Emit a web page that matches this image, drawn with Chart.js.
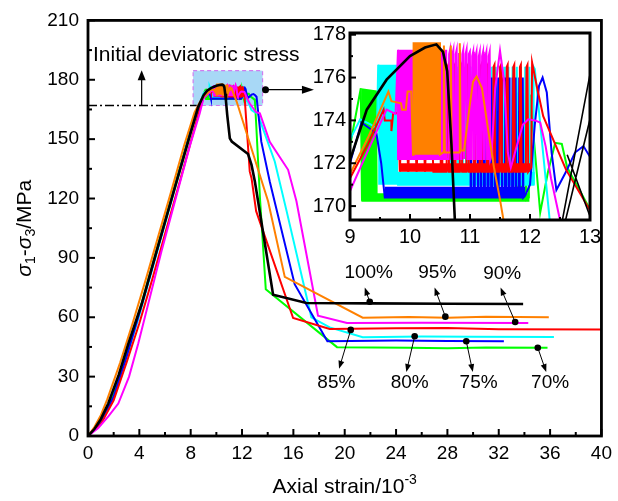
<!DOCTYPE html>
<html><head><meta charset="utf-8">
<script src="https://cdn.jsdelivr.net/npm/chart.js@4.4.1/dist/chart.umd.min.js"></script>
<style>
html,body{margin:0;padding:0;background:#fff;}
#wrap{position:relative;width:618px;height:501px;overflow:hidden;}
#main{position:absolute;left:0;top:0;}
#inset{position:absolute;left:300px;top:0;}
</style></head><body>
<div id="wrap"><canvas id="main" width="618" height="501"></canvas><canvas id="inset" width="310" height="250"></canvas></div>
<script>
// ---------------- DATA ----------------
const seriesLabels = ['100%','95%','90%','85%','75%','80%','70%'];
const seriesColors = ['#000000','#ff8000','#ff00ff','#ff0000','#0000ff','#00ffff','#00ff00'];
// order in arrays: 100% black, 95% orange, 90% magenta, 85% red, 75% blue, 80% cyan, 70% green

// pre-peak (rise) segments  [strain(1e-3), deviatoric stress MPa]
const riseBlack   = [[0,0],[0.5,3.5],[1,8.5],[1.58,16.4],[2.4,31],[3.14,46.6],[4.18,66.7],[5.35,93.5],[6.5,119.5],[7.5,142],[8.58,166.3],[9.0,172.15]];
const riseOrange  = [[0,0],[0.5,4.5],[1,10.5],[1.5,18.5],[2.5,37],[3.5,57.5],[4.5,79],[5.5,101.5],[6.5,124],[7.5,147],[8.3,163.5],[8.7,168.5],[9.0,171.5]];
const riseMagenta = [[0,0],[0.8,4],[1.6,10],[2.36,16.4],[3.2,30],[3.91,46.6],[4.69,66.7],[5.73,93.5],[7,124],[8,148],[8.7,163],[9.0,170.7]];
const riseRed     = [[0,0],[1,6],[2,18],[3,37],[4,57],[5,79],[6,102],[7,125],[8,148.5],[8.6,162.5],[9.0,171.3]];
const riseBlue    = [[0,0],[1,6.5],[2,20],[3,40],[4,62],[5,85],[6,108],[7,131],[8,154],[8.6,165],[9.0,172.0]];
const riseCyan    = [[0,0],[1,6],[2,19.5],[3,39.5],[4,61],[5,84],[6,107],[7,130],[8,153],[8.6,165.5],[9.0,173.1]];
const riseGreen   = [[0,0],[1,7],[2,21],[3,42],[4,63],[5,86],[6,109],[7,132],[8,155],[8.6,166],[9.0,172.8]];

// peak / cyclic plateau segments (individual load cycles)
const plateauBlack = [[9.28,174.5],[9.61,175.9],[10.0,177.0],[10.25,177.4],[10.44,177.55],[10.55,177.2],[10.62,176.3],[10.69,172.9],[10.75,169.2]];
const plateauOrange = [[9.3,173.2],[9.64,175.35],[9.69,174.9],[9.85,174.8],[9.87,174.5],[9.93,174.5],[9.96,175.35],[10.02,175.35],[10.05,172.4],
 [10.06,177.6],[10.5,177.6],[10.5,172.4],[10.55,172.5],[10.565,177.5],[10.58,172.5],[10.67,172.5],[10.68,177.5],[10.695,172.5],
 [10.82,172.5],[10.83,177.6],[10.845,172.6],[10.9,172.6]];
const plateauMagenta = [[9.3,172.6],[9.61,174.5],[9.76,174.3],[9.8,177.3],[9.8,172.2],[10.62,172.2],
 [10.64,172.2],[10.652,177.1],[10.668,177.3],[10.68,172.2],[10.695,172.2],[10.707,177.1],[10.723,177.3],[10.735,172.2],
 [10.75,172.2],[10.762,177.1],[10.778,177.3],[10.79,172.2],[10.805,172.2],[10.817,177.1],[10.833,177.3],[10.845,172.2],
 [10.86,172.2],[10.872,177.1],[10.888,177.3],[10.9,172.2],[10.915,172.2],[10.927,177.1],[10.943,177.3],[10.955,172.2],
 [10.97,172.2],[10.982,177.1],[10.998,177.2],[11.01,172.2],[11.025,172.2],[11.037,177.0],[11.053,177.2],[11.065,172.2],
 [11.08,172.2],[11.092,177.0],[11.108,177.2],[11.12,172.2],[11.135,172.2],[11.147,177.0],[11.163,177.2],[11.175,172.2],
 [11.19,172.2],[11.202,177.0],[11.218,177.2],[11.23,172.2],[11.245,172.2],[11.257,177.0],[11.273,177.2],[11.285,172.2],
 [11.3,172.2],[11.312,177.0],[11.328,177.2],[11.34,172.2],
 [11.36,172.4],[11.42,175.5],[11.5,177.25],[11.57,175.8],[11.63,172.5],[11.68,171.8],[11.78,172.8],[11.88,173.8],[11.97,174.05],[12.08,174.0],[12.17,173.9],[12.26,172.8],[12.35,171.3]];
const plateauRed = [[9.3,172.9],[9.56,174.5],[9.58,174.0],[9.69,174.0],[9.69,173.5],[9.72,174.35],[9.81,174.35],[9.83,171.6],
 [9.9,176.6],[9.97,171.6],[10.04,176.6],[10.11,171.6],[10.18,176.6],[10.25,171.6],[10.32,176.6],[10.39,171.6],[10.46,171.6],
 [10.5,171.6],[10.512,176.5],[10.528,176.6],[10.54,171.6],[10.61,171.6],[10.622,176.5],[10.638,176.6],[10.65,171.6],
 [10.72,171.6],[10.732,176.5],[10.748,176.6],[10.76,171.6],[10.83,171.6],[10.842,176.5],[10.858,176.6],[10.87,171.6],
 [10.94,171.6],[10.952,176.5],[10.968,176.6],[10.98,171.6],[11.05,171.6],[11.062,176.5],[11.078,176.6],[11.09,171.6],
 [11.16,171.6],[11.172,176.5],[11.188,176.6],[11.2,171.6],[11.27,171.6],[11.282,176.5],[11.298,176.6],[11.31,171.6],
 [11.38,171.6],[11.392,176.5],[11.408,176.6],[11.42,171.6],[11.49,171.6],[11.502,176.5],[11.518,176.6],[11.53,171.6],
 [11.6,171.6],[11.612,176.5],[11.628,176.6],[11.64,171.6],[11.71,171.6],[11.722,176.5],[11.738,176.6],[11.75,171.6],
 [11.82,171.6],[11.832,176.5],[11.848,176.6],[11.86,171.6],[11.93,171.6],[11.942,176.5],[11.958,176.6],[11.97,171.6],
 [12.02,171.8],[12.035,176.7]];
const plateauBlue = [[9.19,173.9],[9.44,173.4],[9.52,172.0],[9.58,170.4],[11.0,170.4],
 [11.01,176.0],[11.02,170.4],[11.06,170.4],[11.07,176.0],[11.08,170.4],[11.12,170.4],[11.13,176.0],[11.14,170.4],
 [11.17,170.4],[11.18,176.0],[11.19,170.4],[11.23,170.4],[11.24,176.0],[11.25,170.4],[11.29,170.4],[11.3,176.0],[11.31,170.4],
 [11.35,170.4],[11.36,176.0],[11.37,170.4],[11.41,170.4],[11.42,176.0],[11.43,170.4],[11.46,170.4],[11.47,176.0],[11.48,170.4],
 [11.52,170.4],[11.53,176.0],[11.54,170.4],[11.58,170.4],[11.59,176.0],[11.6,170.4],[11.64,170.4],[11.65,176.0],[11.66,170.4],
 [11.7,170.4],[11.71,176.0],[11.72,170.4],[11.75,170.4],[11.76,176.0],[11.77,170.4],[11.81,170.4],[11.82,176.0],[11.83,170.4],
 [11.87,170.4],[11.88,176.0],[11.89,170.4],[11.92,170.5]];
const plateauCyan = [[9.17,174.05],[9.35,173.8],[9.45,173.6],[9.47,176.6],[9.8,171.0],[10.65,171.0],
 [10.66,176.5],[10.67,171.0],[10.72,171.0],[10.73,176.5],[10.74,171.0],[10.79,171.0],[10.8,176.5],[10.81,171.0],
 [10.86,171.0],[10.87,176.5],[10.88,171.0],[10.93,171.0],[10.94,176.5],[10.95,171.0],[11.0,171.0],[11.01,176.5],[11.02,171.0],
 [11.07,171.0],[11.08,176.5],[11.09,171.0],[11.14,171.0],[11.15,176.5],[11.16,171.0],[11.21,171.0],[11.22,176.5],[11.23,171.0],
 [11.28,171.0],[11.29,176.5],[11.3,171.0],[11.35,171.0],[11.36,176.5],[11.37,171.0],[11.42,171.0],[11.43,176.5],[11.44,171.0],
 [11.49,171.0],[11.5,176.5],[11.51,171.0],[11.56,171.0],[11.57,176.5],[11.58,171.0],[11.63,171.0],[11.64,176.5],[11.65,171.0],
 [11.7,171.0],[11.71,176.5],[11.72,171.0],[11.77,171.0],[11.78,176.5],[11.79,171.0],[11.84,171.0],[11.85,176.5],[11.86,171.0],
 [11.91,171.0],[11.92,176.5],[11.93,171.0],[11.98,171.0],[11.99,176.5],[12.0,171.0],[12.05,171.0],[12.06,176.5],[12.08,176.4]];
const plateauGreen = [[9.12,174.6],[9.18,175.5],[9.2,170.3],[11.76,170.3],[11.77,175.3],[11.78,170.3],[11.84,170.3],[11.85,175.4],[11.86,170.3],
 [11.92,170.3],[11.93,175.2],[11.94,170.3],[11.98,170.4]];

// envelopes of the densely cycled blocks (outline polygons)
const bandOrange  = [[10.06,177.6],[10.5,177.6],[10.5,172.4],[10.06,172.4]];
const bandMagenta = [[9.8,177.3],[10.62,177.3],[10.62,172.2],[9.8,172.2]];
const bandRed     = [[9.83,172.0],[12.0,172.0],[12.0,171.6],[9.83,171.6]];
const bandBlue    = [[9.58,170.9],[11.92,170.9],[11.92,170.4],[9.58,170.4]];
const bandCyan    = [[9.47,176.6],[9.8,176.6],[9.8,171.6],[12.08,171.6],[12.08,171.0],[9.47,171.0]];
const bandGreen   = [[9.19,175.5],[9.45,175.4],[9.46,170.6],[11.99,170.6],[11.99,170.2],[9.19,170.2]];

// post-peak tails (shared by main chart and inset)
const tailBlack   = [];
const tailOrange  = [[11.0,174.8],[11.05,175.8],[11.11,176.05],[11.2,175.5],[11.3,173.6],[11.4,171.8],[11.5,170.3],[11.58,169.0]];
const tailMagenta = [[12.5,169.35]];
const tailRed     = [];
const tailBlue    = [[12.0,171.0],[12.08,173.8],[12.15,175.6],[12.21,176.0],[12.28,175.3],[12.36,172.5],[12.44,170.75],[12.6,171.6],[12.75,172.5],[12.89,172.8],[13.0,172.3],[13.13,171.4]];
const tailCyan    = [[12.2,173.0],[12.33,169.3]];
const tailGreen   = [[12.0,175.2],[12.17,169.7],[12.3,171.6],[12.42,172.95],[12.53,172.9],[12.62,171.8],[13.0,169.85]];

// softening / residual segments (main chart)
const dropBlack   = [[10.85,162],[11.05,150.4],[11.2,148.8],[12.47,142.5],[12.74,137],[13.0,128.6],[13.25,118.6],[14.42,71.4],[17.02,67.2],[22,67.0],[28,66.8],[33.9,66.7]];
const dropOrange  = [[14.03,118.6],[15.33,80.4],[21.4,59.8],[25,60.1],[28,59.8],[31,60.2],[35.9,60.0]];
const dropMagenta = [[12.6,168],[13.1,163.6],[13.39,163],[14.16,148.7],[15.59,134.5],[16.24,118.6],[17.92,60.8],[20.18,57.1],[26,57.2],[34.3,57.1]];
const dropRed     = [[12.2,171.4],[12.6,133.7],[12.74,130.3],[13.1,113.6],[15.98,59.6],[18.83,54.1],[24,54.4],[28,54.6],[32,54.0],[40,53.8]];
const dropBlue    = [[13.5,148.7],[14.16,128.6],[16.1,76.7],[18.65,47.9],[24,48.2],[28,48.0],[32.4,47.9]];
const dropCyan    = [[12.47,168.8],[12.74,164.7],[13.0,163.5],[13.25,163.0],[13.4,159.5],[14.55,138.7],[15.46,114],[17.4,60],[18.83,54.9],[21.4,49.9],[26,50.3],[30,50.1],[36.3,50.0]];
const dropGreen   = [[13.1,158],[13.4,120],[13.85,74.2],[19.4,44.9],[25,44.6],[28,44.3],[31,44.7],[35.8,44.6]];

// inset-only segments
const insetRedTail = [[12.12,175.5],[12.22,174.2],[12.6,171.7],[13.0,169.8]];
const insetBlackExtra = [[12.53,169.2],[13.03,176.6],[NaN,NaN],[12.58,169.2],[13.03,174.4],[NaN,NaN],[12.62,172.4],[13.03,169.3]];

// annotations
const initialStress = 167;
const initialLineEnd = 8.46;
const zoomBoxX = [8.19, 13.6];
const zoomBoxY = [167.0, 184.6];
const pctLabelPos = [[21.87,82.6],[27.21,82.6],[32.27,82.1],[19.35,26.8],[25.06,26.8],[30.43,26.8],[36.0,26.8]];
const pctLabelText = ['100%','95%','90%','85%','80%','75%','70%'];
const pctDot = [[21.95,67.8],[27.84,60.3],[33.28,57.6],[20.47,53.6],[25.45,50.4],[29.47,47.9],[35.04,44.6]];
const pctHead = [[21.56,75.0],[27.0,75.0],[32.14,75.0],[19.56,34.0],[24.8,32.3],[29.98,32.3],[35.7,32.3]];
const xTicksMain = [0,4,8,12,16,20,24,28,32,36,40];
const yTicksMain = [0,30,60,90,120,150,180,210];
const xTicksInset = [9,10,11,12,13];
const yTicksInset = [170,172,174,176,178];

// ---------------- BUILD ----------------
const rises = [riseBlack, riseOrange, riseMagenta, riseRed, riseBlue, riseCyan, riseGreen];
const plateaus = [plateauBlack, plateauOrange, plateauMagenta, plateauRed, plateauBlue, plateauCyan, plateauGreen];
const bands = [null, bandOrange, bandMagenta, bandRed, bandBlue, bandCyan, bandGreen];
const tails = [tailBlack, tailOrange, tailMagenta, tailRed, tailBlue, tailCyan, tailGreen];
const drops = [dropBlack, dropOrange, dropMagenta, dropRed, dropBlue, dropCyan, dropGreen];
const insetExtras = [[], [], [], insetRedTail, [], [], []];
const toXY = a => a.map(p => ({x: p[0], y: isNaN(p[1]) ? null : p[1]}));

const FONT = '"Liberation Sans", Arial, sans-serif';
Chart.defaults.font.family = FONT;
Chart.defaults.color = '#000';

function buildSets(isInset) {
  const out = [];
  if (isInset) out.push({label: 'extra', data: toXY(insetBlackExtra), borderColor: '#000', borderWidth: 1.6, pointRadius: 0, spanGaps: false, fill: false});
  rises.forEach((r, i) => {
    const pts = isInset
      ? r.filter(p => p[0] >= 8.4).concat(plateaus[i], tails[i], insetExtras[i])
      : r.concat(plateaus[i], tails[i], drops[i]);
    out.push({label: seriesLabels[i], data: toXY(pts), borderColor: seriesColors[i],
      borderWidth: i === 0 ? 2.6 : 2, pointRadius: 0, tension: 0, fill: false});
    if (bands[i]) out.push({label: seriesLabels[i] + ' band', data: toXY(bands[i]), borderWidth: 0,
      borderColor: seriesColors[i], backgroundColor: seriesColors[i], pointRadius: 0, fill: 'shape'});
  });
  return out;
}

function arrow(ctx, x1, y1, x2, y2, len, hw) {
  const a = Math.atan2(y2 - y1, x2 - x1);
  ctx.beginPath(); ctx.moveTo(x1, y1); ctx.lineTo(x2 - Math.cos(a) * len * 0.6, y2 - Math.sin(a) * len * 0.6); ctx.stroke();
  ctx.beginPath(); ctx.moveTo(x2, y2);
  ctx.lineTo(x2 - Math.cos(a) * len + Math.sin(a) * hw, y2 - Math.sin(a) * len - Math.cos(a) * hw);
  ctx.lineTo(x2 - Math.cos(a) * len - Math.sin(a) * hw, y2 - Math.sin(a) * len + Math.cos(a) * hw);
  ctx.closePath(); ctx.fill();
}
function drawRich(ctx, parts, cx, cy, rot) {
  ctx.save(); ctx.translate(cx, cy); if (rot) ctx.rotate(rot);
  let total = 0; parts.forEach(p => { ctx.font = p.font; p.w = ctx.measureText(p.t).width; total += p.w; });
  let xx = -total / 2; ctx.textBaseline = 'alphabetic'; ctx.fillStyle = '#000';
  parts.forEach(p => { ctx.font = p.font; ctx.fillText(p.t, xx, 7 + (p.dy || 0)); xx += p.w; });
  ctx.restore();
}
function frameAndTicks(chart, xMinor, yMinor, majLen, minLen, lw) {
  const {ctx, chartArea: A, scales: {x, y}} = chart;
  ctx.save(); ctx.strokeStyle = '#000'; ctx.lineWidth = lw;
  ctx.strokeRect(A.left, A.top, A.right - A.left, A.bottom - A.top);
  ctx.lineWidth = 2;
  x.ticks.forEach(t => { const px = x.getPixelForValue(t.value); ctx.beginPath(); ctx.moveTo(px, A.bottom); ctx.lineTo(px, A.bottom - majLen); ctx.stroke(); });
  xMinor.forEach(v => { const px = x.getPixelForValue(v); ctx.beginPath(); ctx.moveTo(px, A.bottom); ctx.lineTo(px, A.bottom - minLen); ctx.stroke(); });
  y.ticks.forEach(t => { const py = y.getPixelForValue(t.value); ctx.beginPath(); ctx.moveTo(A.left, py); ctx.lineTo(A.left + majLen, py); ctx.stroke(); });
  yMinor.forEach(v => { const py = y.getPixelForValue(v); ctx.beginPath(); ctx.moveTo(A.left, py); ctx.lineTo(A.left + minLen, py); ctx.stroke(); });
  ctx.restore();
}

const mainDecor = {
  id: 'mainDecor',
  beforeDatasetsDraw(chart) {
    const {ctx, scales: {x, y}} = chart;
    const L = x.getPixelForValue(zoomBoxX[0]), R = x.getPixelForValue(zoomBoxX[1]);
    const T = y.getPixelForValue(zoomBoxY[1]), B = y.getPixelForValue(zoomBoxY[0]);
    ctx.save();
    ctx.fillStyle = '#a8d8f6'; ctx.fillRect(L, T, R - L, B - T);
    ctx.setLineDash([4, 3]); ctx.strokeStyle = '#d07cf0'; ctx.lineWidth = 1.2; ctx.strokeRect(L, T, R - L, B - T);
    ctx.setLineDash([9, 3, 2, 3]); ctx.strokeStyle = '#000'; ctx.lineWidth = 1.6;
    const py = y.getPixelForValue(initialStress);
    ctx.beginPath(); ctx.moveTo(x.getPixelForValue(0), py); ctx.lineTo(x.getPixelForValue(initialLineEnd), py); ctx.stroke();
    ctx.restore();
  },
  afterDatasetsDraw(chart) {
    const {ctx, scales: {x, y}} = chart;
    ctx.save(); ctx.strokeStyle = '#000'; ctx.fillStyle = '#000'; ctx.lineWidth = 1.2;
    arrow(ctx, x.getPixelForValue(4.18), y.getPixelForValue(initialStress), x.getPixelForValue(4.18), y.getPixelForValue(184.8), 10, 4);
    ctx.font = '21px ' + FONT; ctx.textAlign = 'left'; ctx.textBaseline = 'middle';
    ctx.fillText('Initial deviatoric stress', x.getPixelForValue(0.39), y.getPixelForValue(192.5));
    const ay = y.getPixelForValue(175.0);
    arrow(ctx, x.getPixelForValue(13.83), ay, x.getPixelForValue(17.6), ay, 12, 4);
    ctx.beginPath(); ctx.arc(x.getPixelForValue(13.83), ay, 3.5, 0, Math.PI * 2); ctx.fill();
    ctx.lineWidth = 1;
    pctLabelText.forEach((t, i) => {
      const dx = x.getPixelForValue(pctDot[i][0]), dy = y.getPixelForValue(pctDot[i][1]);
      arrow(ctx, dx, dy, x.getPixelForValue(pctHead[i][0]), y.getPixelForValue(pctHead[i][1]), 8, 3);
      ctx.beginPath(); ctx.arc(dx, dy, 3.3, 0, Math.PI * 2); ctx.fill();
      ctx.font = '19px ' + FONT; ctx.textAlign = 'center'; ctx.textBaseline = 'middle';
      ctx.fillText(t, x.getPixelForValue(pctLabelPos[i][0]), y.getPixelForValue(pctLabelPos[i][1]));
    });
    ctx.restore();
  },
  afterDraw(chart) {
    const xm = xTicksMain.slice(1).map(v => v - 2);
    const ym = yTicksMain.slice(1).map(v => v - 15);
    frameAndTicks(chart, xm, ym, 7, 4, 2.8);
    const {ctx, chartArea: A} = chart;
    const F = FONT;
    drawRich(ctx, [{t: 'Axial strain/10', font: '21px ' + F}, {t: '-3', font: '14px ' + F, dy: -9}], (A.left + A.right) / 2, 486, 0);
    drawRich(ctx, [{t: 'σ', font: 'italic 21px ' + F}, {t: '1', font: '14px ' + F, dy: 4}, {t: '-', font: '21px ' + F},
      {t: 'σ', font: 'italic 21px ' + F}, {t: '3', font: '14px ' + F, dy: 4}, {t: '/MPa', font: '21px ' + F}],
      24, (A.top + A.bottom) / 2, -Math.PI / 2);
  }
};

const insetDecor = {
  id: 'insetDecor',
  beforeDraw(chart) {
    const {ctx, chartArea: A} = chart;
    ctx.save(); ctx.fillStyle = '#fff'; ctx.fillRect(A.left, A.top, A.right - A.left, A.bottom - A.top); ctx.restore();
  },
  afterDraw(chart) {
    frameAndTicks(chart, [9.5, 10.5, 11.5, 12.5], [171, 173, 175, 177], 6, 3, 3);
  }
};

const common = {
  responsive: false, animation: false, devicePixelRatio: 1,
  plugins: {legend: {display: false}, tooltip: {enabled: false}, filler: {drawTime: 'beforeDatasetDraw'}}
};

new Chart(document.getElementById('main'), {
  type: 'line',
  data: {datasets: buildSets(false)},
  options: Object.assign({}, common, {
    layout: {padding: {left: 0, right: 16, top: 18, bottom: 0}},
    scales: {
      x: {type: 'linear', min: 0, max: 40,
        afterBuildTicks: s => { s.ticks = xTicksMain.map(v => ({value: v})); },
        ticks: {font: {size: 19}, color: '#000', padding: 6, maxRotation: 0, autoSkip: false},
        grid: {display: false, drawTicks: false}, border: {display: false},
        afterFit: s => { s.height = 65; }},
      y: {type: 'linear', min: 0, max: 210,
        afterBuildTicks: s => { s.ticks = yTicksMain.map(v => ({value: v})); },
        ticks: {font: {size: 19}, color: '#000', padding: 9},
        grid: {display: false, drawTicks: false}, border: {display: false},
        afterFit: s => { s.width = 88; }}
    }
  }),
  plugins: [mainDecor]
});

new Chart(document.getElementById('inset'), {
  type: 'line',
  data: {datasets: buildSets(true)},
  options: Object.assign({}, common, {
    layout: {padding: {left: 0, right: 20, top: 33, bottom: 0}},
    scales: {
      x: {type: 'linear', min: 9, max: 13,
        afterBuildTicks: s => { s.ticks = xTicksInset.map(v => ({value: v})); },
        ticks: {font: {size: 20}, color: '#000', padding: 5, maxRotation: 0, autoSkip: false},
        grid: {display: false, drawTicks: false}, border: {display: false},
        afterFit: s => { s.height = 30; }},
      y: {type: 'linear', min: 169.35, max: 178.08,
        afterBuildTicks: s => { s.ticks = yTicksInset.map(v => ({value: v})); },
        ticks: {font: {size: 20}, color: '#000', padding: 4},
        grid: {display: false, drawTicks: false}, border: {display: false},
        afterFit: s => { s.width = 50; }}
    }
  }),
  plugins: [insetDecor]
});
</script>
</body></html>
